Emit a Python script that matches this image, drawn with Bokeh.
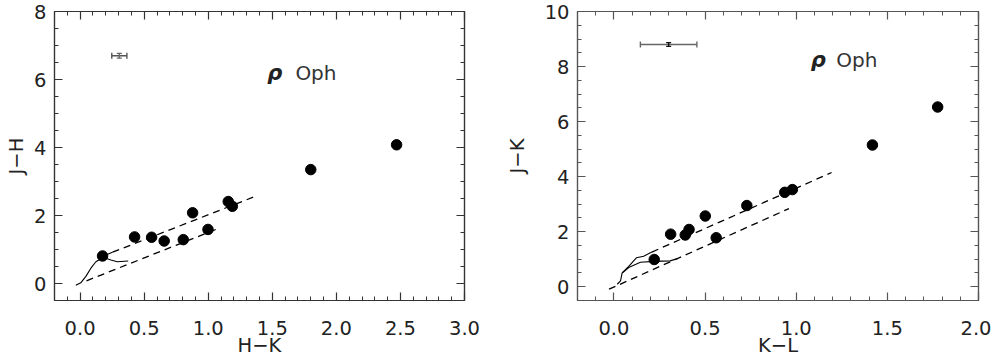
from bokeh.plotting import figure
from bokeh.layouts import row
from bokeh.models import (LinearAxis, SingleIntervalTicker, PrintfTickFormatter,
                          CustomJSTickFormatter, ColumnDataSource)
from bokeh.core.properties import value
from bokeh.embed import file_html
from bokeh.resources import INLINE

# ---------------- data: left panel (H-K vs J-H) ----------------
hk = [0.175, 0.425, 0.558, 0.656, 0.805, 0.878, 0.998, 1.156, 1.188, 1.80, 2.47]
jh = [0.81, 1.37, 1.36, 1.25, 1.29, 2.08, 1.59, 2.41, 2.27, 3.35, 4.08]
left_red_upper_x = [0.253, 1.386]
left_red_upper_y = [0.92, 2.59]
left_red_lower_x = [0.05, 1.06]
left_red_lower_y = [0.08, 1.59]
left_dwarf_x = [-0.034, 0.005, 0.045, 0.084, 0.123, 0.162, 0.20, 0.24, 0.29, 0.375]
left_dwarf_y = [-0.05, 0.02, 0.21, 0.45, 0.64, 0.73, 0.74, 0.69, 0.64, 0.66]
left_giant_x = [0.162, 0.20, 0.253]
left_giant_y = [0.73, 0.84, 0.92]
left_err_x, left_err_y = [0.306], [6.7]
left_err_dx, left_err_dy = [0.059], [0.07]

# ---------------- data: right panel (K-L vs J-K) ----------------
kl = [0.221, 0.311, 0.391, 0.412, 0.501, 0.561, 0.729, 0.937, 0.979, 1.418, 1.776]
jk = [0.99, 1.91, 1.88, 2.08, 2.57, 1.78, 2.95, 3.43, 3.53, 5.15, 6.53]
right_red_upper_x = [0.208, 1.194]
right_red_upper_y = [1.26, 4.15]
right_red_lower_x = [-0.027, 0.96]
right_red_lower_y = [-0.09, 2.84]
right_giant_x = [0.018, 0.036, 0.045, 0.081, 0.123, 0.163, 0.208]
right_giant_y = [0.09, 0.21, 0.50, 0.74, 1.05, 1.11, 1.26]
right_dwarf_x = [0.045, 0.081, 0.145, 0.22, 0.308, 0.353]
right_dwarf_y = [0.50, 0.70, 0.89, 0.92, 0.94, 1.03]
right_err_x, right_err_y = [0.30], [8.8]
right_err_dx, right_err_dy = [0.155], [0.07]

x_major_ticks = 0.5
y_major_ticks = 2

FONT = "DejaVu Sans"
TXT = "#222222"
BLANK = CustomJSTickFormatter(code="return ''")


def style_axes(p, frame_color, ylab_standoff):
    p.xgrid.visible = False
    p.ygrid.visible = False
    p.outline_line_color = frame_color
    p.outline_line_width = 1.2
    p.add_layout(LinearAxis(), "above")
    p.add_layout(LinearAxis(), "right")
    for ax in p.xaxis:
        ax.ticker = SingleIntervalTicker(interval=x_major_ticks, num_minor_ticks=5)
        ax.formatter = PrintfTickFormatter(format="%.1f")
    for ax in p.yaxis:
        ax.ticker = SingleIntervalTicker(interval=y_major_ticks, num_minor_ticks=4)
        ax.formatter = PrintfTickFormatter(format="%d")
    for ax in p.xaxis + p.yaxis:
        ax.major_tick_in = 8
        ax.major_tick_out = 0
        ax.minor_tick_in = 4
        ax.minor_tick_out = 0
        ax.axis_line_color = frame_color
        ax.major_tick_line_color = frame_color
        ax.minor_tick_line_color = frame_color
        ax.axis_line_width = 1.2
        ax.major_tick_line_width = 1.2
        ax.minor_tick_line_width = 1.0
        ax.major_label_text_font = FONT
        ax.major_label_text_font_size = "19.5px"
        ax.major_label_text_color = TXT
        ax.axis_label_text_font = FONT
        ax.axis_label_text_font_size = "19.5px"
        ax.axis_label_text_font_style = "normal"
        ax.axis_label_text_color = TXT
    for ax in (p.above[0], p.right[0]):
        ax.formatter = BLANK
        ax.major_label_standoff = 0
    p.below[0].major_label_standoff = 20
    p.below[0].axis_label_standoff = -4
    p.left[0].major_label_standoff = 8
    p.left[0].axis_label_standoff = ylab_standoff


def panel(width, bl, br, xr, yr, xs, ys, ux, uy, lx, ly, gx, gy, dx, dy,
          ex, ey, edx, edy, xlabel, ylabel, rho_x, oph_x, lab_y, frame_color,
          err_color, cen_color, ylab_standoff):
    p = figure(width=width, height=361, x_range=xr, y_range=yr,
               output_backend="svg", toolbar_location=None,
               min_border_left=bl, min_border_right=br,
               min_border_top=11, min_border_bottom=61,
               background_fill_color="white", border_fill_color="white")
    style_axes(p, frame_color, ylab_standoff)
    p.below[0].axis_label = xlabel
    p.left[0].axis_label = ylabel

    p.line(ux, uy, line_color="black", line_width=1.3, line_dash="7 5")
    p.line(lx, ly, line_color="black", line_width=1.3, line_dash="7 5")
    p.line(gx, gy, line_color="black", line_width=1.1)
    p.line(dx, dy, line_color="black", line_width=1.1)
    p.scatter(xs, ys, size=10.5, fill_color="black", line_color="black")

    # error bar sample
    src = ColumnDataSource(dict(
        x=ex, y=ey,
        x0=[a - b for a, b in zip(ex, edx)], x1=[a + b for a, b in zip(ex, edx)],
        y0=[a - b for a, b in zip(ey, edy)], y1=[a + b for a, b in zip(ey, edy)]))
    p.segment(x0="x0", y0="y", x1="x1", y1="y", source=src,
              line_color=err_color, line_width=1.6)
    p.scatter(x="x0", y="y", source=src, marker="dash", angle=1.5708, size=6,
              line_color=err_color, line_width=1.4)
    p.scatter(x="x1", y="y", source=src, marker="dash", angle=1.5708, size=6,
              line_color=err_color, line_width=1.4)
    p.segment(x0="x", y0="y0", x1="x", y1="y1", source=src,
              line_color=cen_color, line_width=1.4)
    p.scatter(x="x", y="y0", source=src, marker="dash", size=5,
              line_color=cen_color, line_width=1.2)
    p.scatter(x="x", y="y1", source=src, marker="dash", size=5,
              line_color=cen_color, line_width=1.2)

    p.text(x=[rho_x], y=[lab_y], text=["ρ"], text_font=value("DejaVu Sans"),
           text_font_style="bold italic", text_font_size="21px",
           text_color="#222222", text_baseline="alphabetic")
    p.text(x=[oph_x], y=[lab_y], text=["Oph"], text_font=value(FONT),
           text_font_size="20px", text_color="#333333",
           text_baseline="alphabetic")
    return p


p1 = panel(502, 54, 38, (-0.2, 3.0), (-0.5, 8.0), hk, jh,
           left_red_upper_x, left_red_upper_y, left_red_lower_x, left_red_lower_y,
           left_giant_x, left_giant_y, left_dwarf_x, left_dwarf_y,
           left_err_x, left_err_y, left_err_dx, left_err_dy,
           "H−K", "J−H", 1.46, 1.68, 6.2, "#333333", "#555555", "#666666", 3)

p2 = panel(489, 72, 13, (-0.2, 2.0), (-0.5, 10.0), kl, jk,
           right_red_upper_x, right_red_upper_y, right_red_lower_x, right_red_lower_y,
           right_giant_x, right_giant_y, right_dwarf_x, right_dwarf_y,
           right_err_x, right_err_y, right_err_dx, right_err_dy,
           "K−L", "J−K", 1.08, 1.22, 8.25, "#555555", "#666666", "#111111", 13)

layout = row(p1, p2)
open("out.html", "w").write(file_html(layout, INLINE))
